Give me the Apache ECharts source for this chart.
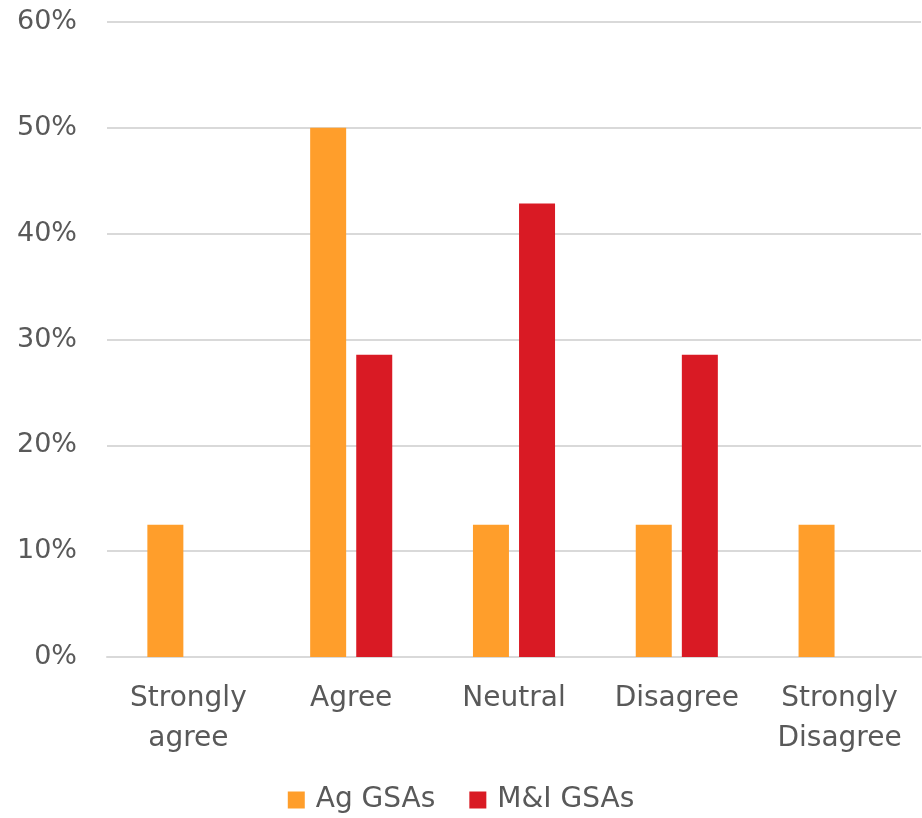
<!DOCTYPE html>
<html>
<head>
<meta charset="utf-8">
<script src="https://cdn.jsdelivr.net/npm/echarts@6/dist/echarts.min.js"></script>
<style>
  html, body { margin: 0; padding: 0; background: #ffffff; }
  #chart { width: 922px; height: 818px; }
</style>
</head>
<body>
<div id="chart"></div>
<script>
// Survey response categories and the share of each group choosing them (%)
var categories = ['Strongly\nagree', 'Agree', 'Neutral', 'Disagree', 'Strongly\nDisagree'];
var agGSAs = [12.5, 50, 12.5, 12.5, 12.5];
var miGSAs = [0, 28.57, 42.86, 28.57, 0];
var seriesNames = ['Ag GSAs', 'M&I GSAs'];
var yTicks = { min: 0, max: 60, step: 10 };

var textColor = '#595959';
var fontFamily = '"Century Gothic", "DejaVu Sans", sans-serif';

var chart = echarts.init(document.getElementById('chart'), null, { renderer: 'canvas' });
chart.setOption({
  animation: false,
  textStyle: { fontFamily: fontFamily, color: textColor },
  grid: { left: 107, right: 1, top: 22, bottom: 161, containLabel: false },
  legend: {
    top: 781,
    left: 'center',
    itemWidth: 17,
    itemHeight: 17,
    itemGap: 34,
    icon: 'rect',
    textStyle: { fontSize: 28, color: textColor, fontFamily: fontFamily, padding: [0, 0, 0, 6] },
    data: seriesNames
  },
  xAxis: {
    type: 'category',
    data: categories,
    axisTick: { show: false },
    axisLine: { show: true, lineStyle: { color: '#d9d9d9', width: 2 } },
    axisLabel: { fontSize: 28, color: textColor, margin: 22, lineHeight: 40, interval: 0 }
  },
  yAxis: {
    type: 'value',
    min: yTicks.min,
    max: yTicks.max,
    interval: yTicks.step,
    axisLine: { show: false },
    axisTick: { show: false },
    splitLine: { lineStyle: { color: '#d9d9d9', width: 2 } },
    axisLabel: { fontSize: 27, color: textColor, margin: 30, formatter: '{value}%' }
  },
  series: [
    { name: seriesNames[0], type: 'bar', data: agGSAs, barWidth: 36, barGap: '28%', itemStyle: { color: '#FF9E2B' } },
    { name: seriesNames[1], type: 'bar', data: miGSAs, barWidth: 36, barGap: '28%', itemStyle: { color: '#D91A24' } }
  ]
});
</script>
</body>
</html>
